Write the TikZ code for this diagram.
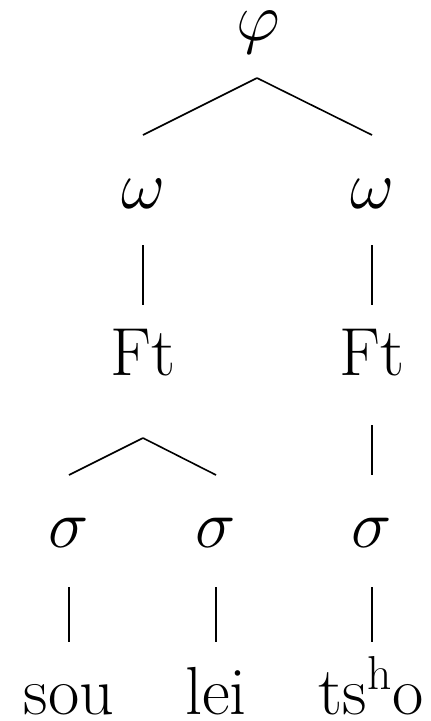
\RequirePackage{fix-cm}
\documentclass[tikz,border=0pt]{standalone}
\begin{document}
\begin{tikzpicture}[x=1pt,y=-1pt,
  lbl/.style={anchor=base,inner sep=0pt,font=\fontsize{68}{80}\selectfont},
  edge/.style={line width=1.6pt}]
\useasboundingbox (0,0) rectangle (431,721);
\node[lbl] (phi) at (258,40) {$\varphi$};
\node[lbl] (w1) at (143,208) {$\omega$};
\node[lbl] (w2) at (372,208) {$\omega$};
\node[lbl] (ft1) at (143,375) {Ft};
\node[lbl] (ft2) at (372,375) {Ft};
\node[lbl] (s1) at (69,547) {$\sigma$};
\node[lbl] (s2) at (216,547) {$\sigma$};
\node[lbl] (s3) at (372,547) {$\sigma$};
\node[lbl] (m1) at (69,714) {sou};
\node[lbl] (m2) at (216,714) {lei};
\node[lbl] (m3) at (371,714) {ts$^{\mathrm{h}}$o};
% phi to omegas
\draw[edge] ([xshift=-1pt,yshift=-38pt]phi.base) -- ([yshift=73pt]w1.base);
\draw[edge] ([xshift=-1pt,yshift=-38pt]phi.base) -- ([yshift=73pt]w2.base);
% omega to Ft
\draw[edge] ([yshift=-37pt]w1.base) -- ([yshift=70pt]ft1.base);
\draw[edge] ([yshift=-37pt]w2.base) -- ([yshift=70pt]ft2.base);
% Ft to sigma
\draw[edge] ([yshift=-63pt]ft1.base) -- ([yshift=72pt]s1.base);
\draw[edge] ([yshift=-63pt]ft1.base) -- ([yshift=72pt]s2.base);
\draw[edge] ([yshift=-50pt]ft2.base) -- ([yshift=72pt]s3.base);
% sigma to words
\draw[edge] ([yshift=-40pt]s1.base) -- ([yshift=72pt]m1.base);
\draw[edge] ([yshift=-40pt]s2.base) -- ([yshift=72pt]m2.base);
\draw[edge] ([yshift=-40pt]s3.base) -- ([xshift=1pt,yshift=72pt]m3.base);
\end{tikzpicture}
\end{document}
